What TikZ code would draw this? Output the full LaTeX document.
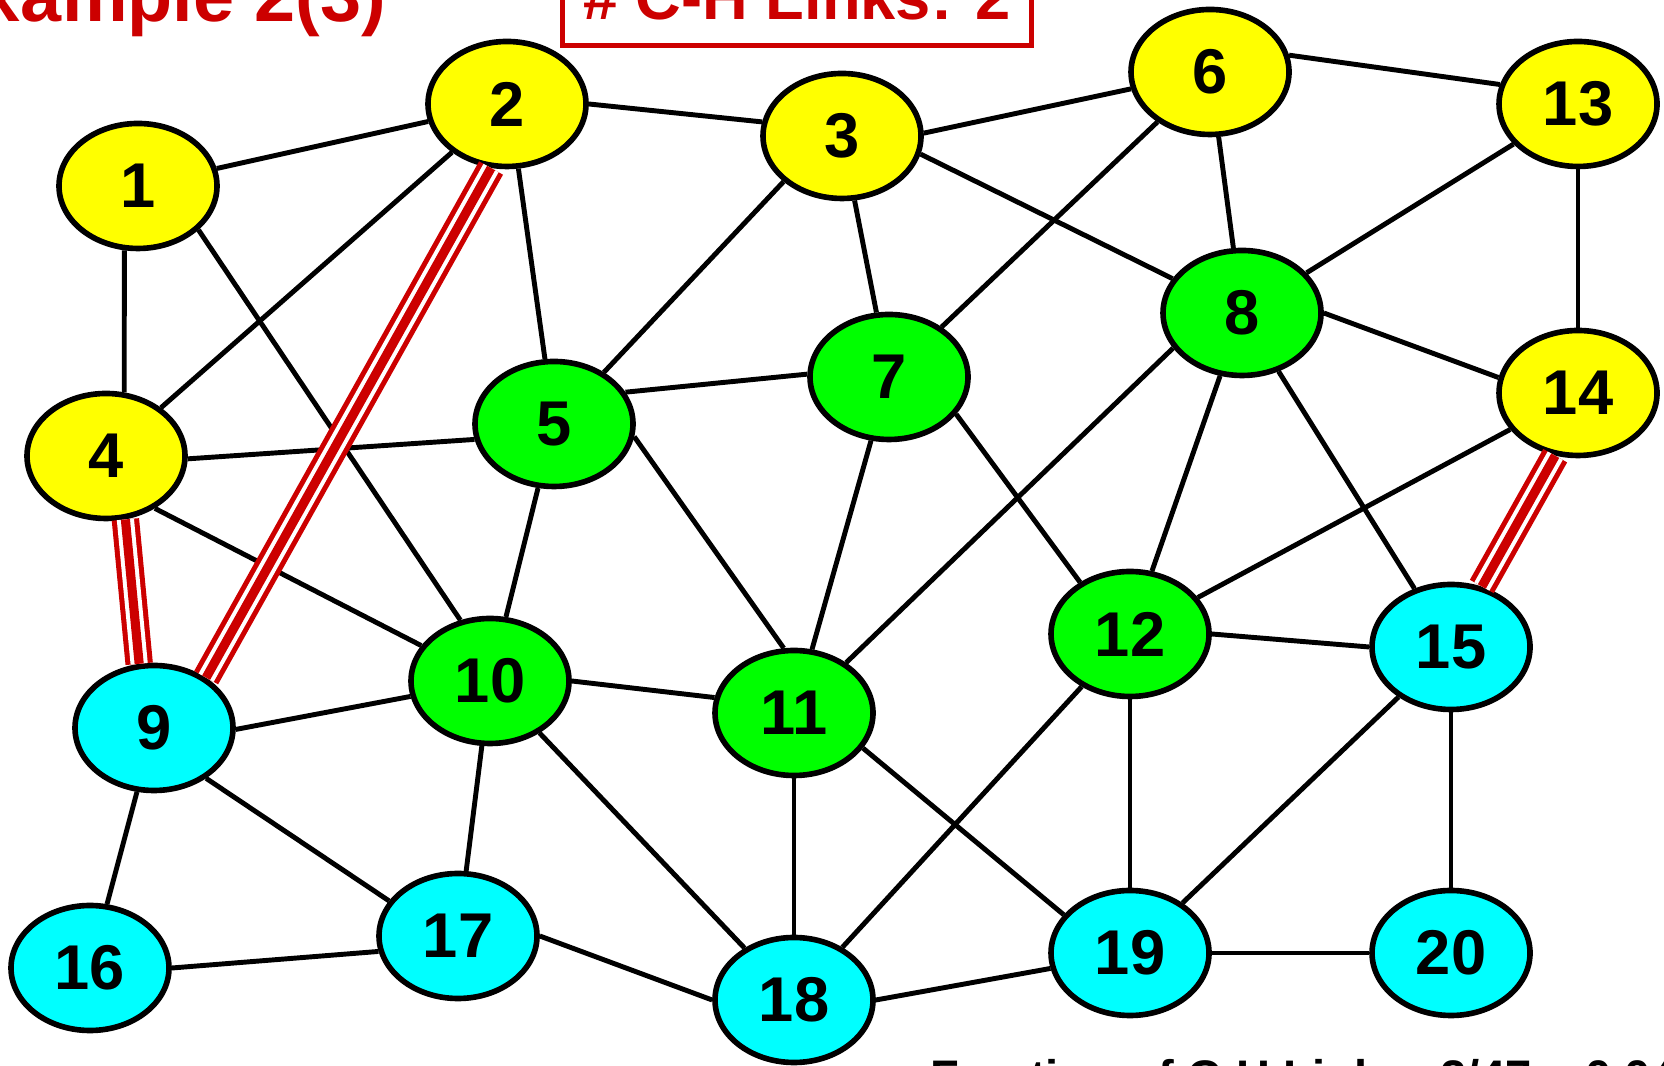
\documentclass[tikz,border=0pt]{standalone}
\usepackage{fontspec}
\setmainfont{Liberation Sans}
\setsansfont{Liberation Sans}
\usetikzlibrary{shapes.geometric}
\definecolor{cred}{HTML}{CC0000}
\definecolor{cyel}{HTML}{FFFF00}
\definecolor{cgrn}{HTML}{00FF00}
\definecolor{ccyn}{HTML}{00FFFF}
\tikzset{
  font=\sffamily\bfseries,
  vtx/.style={
    ellipse, draw=black, fill=#1, line width=1.6pt,
    minimum width=1.58cm, minimum height=1.25cm, inner sep=0pt,
    font=\fontsize{18}{20}\selectfont\sffamily\bfseries
  },
  vtx/.default=cyel,
  link/.style={line width=1.4pt, draw=black},
  chlink/.style={
    line width=7.8pt, draw=cred,
    postaction={draw=white, line width=4.9pt},
    postaction={draw=cred, line width=2.6pt}
  },
  ttl/.style={font=\fontsize{#1}{#1}\selectfont\sffamily\bfseries}
}

\begin{document}
\begin{tikzpicture}
  \useasboundingbox (0,0) rectangle (16.64,10.66);
  \node[ttl=21,text=cred,anchor=base west,inner sep=0pt] (title) at (-0.70,10.44) {Example 2(3)};
  \node[ttl=18,text=cred,draw=cred,line width=1.4pt,minimum width=4.69cm,minimum height=0.98cm,anchor=south] (chbox) at (7.97,10.18) {\# C-H Links: 2};

  % vertices
  \node[vtx=cyel] (n1) at (1.38,8.80) {1};
  \node[vtx=cyel] (n2) at (5.07,9.62) {2};
  \node[vtx=cyel] (n3) at (8.42,9.30) {3};
  \node[vtx=cyel] (n4) at (1.06,6.10) {4};
  \node[vtx=cgrn] (n5) at (5.54,6.42) {5};
  \node[vtx=cyel] (n6) at (12.10,9.94) {6};
  \node[vtx=cgrn] (n7) at (8.89,6.89) {7};
  \node[vtx=cgrn] (n8) at (12.42,7.53) {8};
  \node[vtx=ccyn] (n9) at (1.54,3.38) {9};
  \node[vtx=cgrn] (n10) at (4.90,3.85) {10};
  \node[vtx=cgrn] (n11) at (7.94,3.53) {11};
  \node[vtx=cgrn] (n12) at (11.30,4.32) {12};
  \node[vtx=cyel] (n13) at (15.78,9.62) {13};
  \node[vtx=cyel] (n14) at (15.78,6.73) {14};
  \node[vtx=ccyn] (n15) at (14.51,4.19) {15};
  \node[vtx=ccyn] (n16) at (0.90,0.98) {16};
  \node[vtx=ccyn] (n17) at (4.58,1.30) {17};
  \node[vtx=ccyn] (n18) at (7.94,0.66) {18};
  \node[vtx=ccyn] (n19) at (11.30,1.13) {19};
  \node[vtx=ccyn] (n20) at (14.51,1.13) {20};

  % links
  \foreach \a/\b in {n1/n2, n1.258/n4.74, n1.-36/n10.116, n2.0/n3.170, n2/n4, n2.-80/n5,
    n3.218/n5.46, n3.2/n6, n3/n7, n3.-13/n8, n4.-2/n5.191, n4.-47/n10, n5.24/n7.178,
    n5/n10, n5.-9/n11.99, n6/n7, n6/n8, n6.12/n13.166, n7/n11, n7.-29/n12.134,
    n8.207/n11.44, n8/n12, n8.0/n14.169, n8/n15, n8/n13, n13/n14, n14/n12,
    n9.-1/n10.191, n9/n16, n9.-44/n17.153, n10.0/n11.169, n10/n17, n10/n18, n11/n18,
    n11.-27/n19.150, n12.0/n15.180, n12/n18, n12/n19, n15/n19, n15/n20, n16.0/n17.191,
    n17.0/n18.180, n18.0/n19.191, n19/n20}
    \draw[link] (\a) -- (\b);

  % C-H links
  \draw[chlink] (n2.256) -- (n9.44);
  \draw[chlink] (n4.287) -- (n9.103);
  \draw[chlink] (n14.250) -- (n15.63);

  \node[ttl=13.4,anchor=base west,inner sep=0pt] (frac) at (9.30,-0.27) {Fraction of C-H Links: 2/47 = 0.04};
\end{tikzpicture}
\end{document}
